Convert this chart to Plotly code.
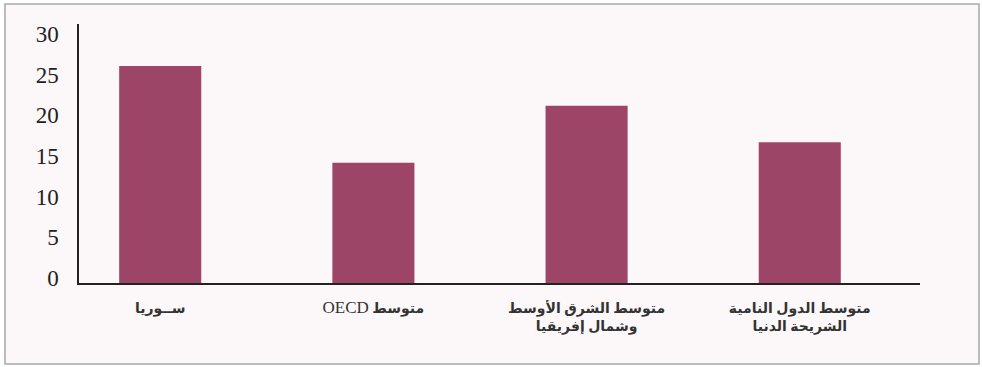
import plotly.graph_objects as go

categories = [
    "<b>ســوريا</b>",
    "\u202b<b>متوسط</b> <span style='font-size:17px'>OECD</span>\u202c",
    "<b>متوسط الشرق الأوسط</b><br><b>وشمال إفريقيا</b>",
    "<b>متوسط الدول النامية</b><br><b>الشريحة الدنيا</b>",
]
values = [26.7, 14.8, 21.8, 17.3]
y_ticks = [0, 5, 10, 15, 20, 25, 30]

W, H = 982, 367
L, R, T, B = 79, 62, 24, 84
pw, ph = W - L - R, H - T - B

def px(x):
    return (x - L) / pw

def py(y):
    return (H - B - y) / ph

fig = go.Figure(
    go.Bar(
        x=categories,
        y=values,
        marker=dict(color="#9d4567", line=dict(width=0)),
        width=0.385,
    )
)

fig.add_shape(
    type="rect", xref="paper", yref="paper",
    x0=px(5), x1=px(979), y0=py(364), y1=py(4),
    line=dict(color="#a8a8a8", width=1.5),
    fillcolor="#fcf8f9", layer="below",
)

fig.update_layout(
    width=W, height=H,
    margin=dict(l=L, r=R, t=T, b=B),
    paper_bgcolor="white",
    plot_bgcolor="rgba(0,0,0,0)",
    showlegend=False,
    xaxis=dict(
        type="category",
        range=[-0.381, 3.564],
        showline=True, linecolor="#222", linewidth=2,
        showgrid=False, zeroline=False,
        ticks="", ticklabelstandoff=11,
        tickfont=dict(family="Liberation Serif, DejaVu Sans", size=14, color="#333"),
    ),
    yaxis=dict(
        range=[0, 31.85],
        tickvals=y_ticks,
        ticktext=[str(v) for v in y_ticks],
        showline=True, linecolor="#222", linewidth=1.5,
        showgrid=False, zeroline=False,
        ticks="", ticklabelstandoff=14, ticklabelshift=-5,
        tickfont=dict(family="Liberation Serif", size=23, color="#222"),
    ),
)

fig.write_html(
    "out.html",
    config={"displayModeBar": False},
    post_script="document.body.style.margin='0';document.body.style.padding='0';",
)
